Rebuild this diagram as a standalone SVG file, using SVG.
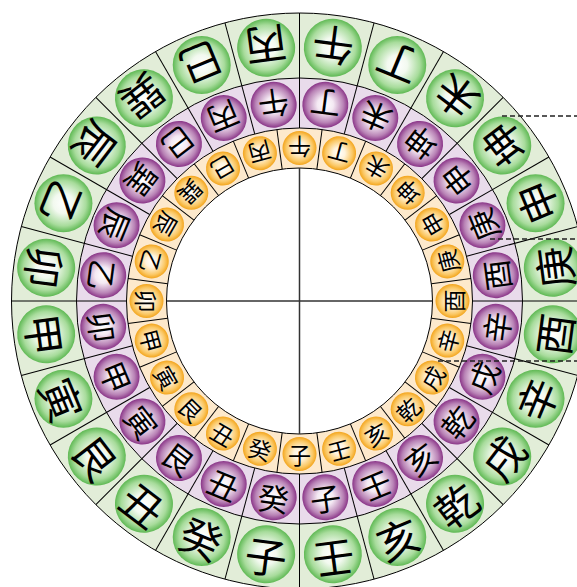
<svg xmlns="http://www.w3.org/2000/svg" width="577" height="587" viewBox="0 0 577 587">
<defs>
<radialGradient id="gg" cx="0.5" cy="0.5" r="0.5">
<stop offset="0" stop-color="#ffffff"/>
<stop offset="0.35" stop-color="#f2f9ef"/>
<stop offset="0.78" stop-color="#a8dc9c"/>
<stop offset="1" stop-color="#5fb954"/>
</radialGradient>
<radialGradient id="gp" cx="0.5" cy="0.5" r="0.5">
<stop offset="0" stop-color="#ffffff"/>
<stop offset="0.35" stop-color="#f4e9f3"/>
<stop offset="0.78" stop-color="#b983b6"/>
<stop offset="1" stop-color="#8a3588"/>
</radialGradient>
<radialGradient id="gy" cx="0.5" cy="0.5" r="0.5">
<stop offset="0" stop-color="#ffffff"/>
<stop offset="0.35" stop-color="#fff3dc"/>
<stop offset="0.78" stop-color="#fbc865"/>
<stop offset="1" stop-color="#f3a51d"/>
</radialGradient>
</defs>
<style>
.cg{fill:url(#gg)}
.cp{fill:url(#gp)}
.cy{fill:url(#gy)}
text{font-family:"Noto Sans CJK TC","Noto Sans CJK SC",sans-serif;text-anchor:middle;dominant-baseline:central;fill:#000}
.tg{font-size:42px}
.tp{font-size:31px}
.ty{font-size:23px}
.div line{stroke:#000;stroke-width:1}
.ring{stroke:#000;stroke-width:1}
.dash{stroke:#222;stroke-width:1.3;stroke-dasharray:5 3;fill:none}
</style>
<g id="rings" transform="translate(299.5 301)">
<circle class="ring" r="288" fill="#e2edd8" stroke-width="2"/>
<circle class="ring" r="223" fill="#e9dbeb"/>
<circle class="ring" r="173" fill="#fde9cc"/>
<circle class="ring" r="133" fill="#ffffff"/>
<line x1="0" y1="-133" x2="0" y2="133" stroke="#333" stroke-width="1.5"/>
<line x1="-133" y1="0" x2="133" y2="0" stroke="#333" stroke-width="1.5"/>
<g class="div">
<line y1="-173" y2="-288" transform="rotate(0)"/>
<line y1="-173" y2="-288" transform="rotate(15)"/>
<line y1="-173" y2="-288" transform="rotate(30)"/>
<line y1="-173" y2="-288" transform="rotate(45)"/>
<line y1="-173" y2="-288" transform="rotate(60)"/>
<line y1="-173" y2="-288" transform="rotate(75)"/>
<line y1="-173" y2="-288" transform="rotate(90)"/>
<line y1="-173" y2="-288" transform="rotate(105)"/>
<line y1="-173" y2="-288" transform="rotate(120)"/>
<line y1="-173" y2="-288" transform="rotate(135)"/>
<line y1="-173" y2="-288" transform="rotate(150)"/>
<line y1="-173" y2="-288" transform="rotate(165)"/>
<line y1="-173" y2="-288" transform="rotate(180)"/>
<line y1="-173" y2="-288" transform="rotate(195)"/>
<line y1="-173" y2="-288" transform="rotate(210)"/>
<line y1="-173" y2="-288" transform="rotate(225)"/>
<line y1="-173" y2="-288" transform="rotate(240)"/>
<line y1="-173" y2="-288" transform="rotate(255)"/>
<line y1="-173" y2="-288" transform="rotate(270)"/>
<line y1="-173" y2="-288" transform="rotate(285)"/>
<line y1="-173" y2="-288" transform="rotate(300)"/>
<line y1="-173" y2="-288" transform="rotate(315)"/>
<line y1="-173" y2="-288" transform="rotate(330)"/>
<line y1="-173" y2="-288" transform="rotate(345)"/>
<line y1="-133" y2="-173" transform="rotate(7.5)"/>
<line y1="-133" y2="-173" transform="rotate(22.5)"/>
<line y1="-133" y2="-173" transform="rotate(37.5)"/>
<line y1="-133" y2="-173" transform="rotate(52.5)"/>
<line y1="-133" y2="-173" transform="rotate(67.5)"/>
<line y1="-133" y2="-173" transform="rotate(82.5)"/>
<line y1="-133" y2="-173" transform="rotate(97.5)"/>
<line y1="-133" y2="-173" transform="rotate(112.5)"/>
<line y1="-133" y2="-173" transform="rotate(127.5)"/>
<line y1="-133" y2="-173" transform="rotate(142.5)"/>
<line y1="-133" y2="-173" transform="rotate(157.5)"/>
<line y1="-133" y2="-173" transform="rotate(172.5)"/>
<line y1="-133" y2="-173" transform="rotate(187.5)"/>
<line y1="-133" y2="-173" transform="rotate(202.5)"/>
<line y1="-133" y2="-173" transform="rotate(217.5)"/>
<line y1="-133" y2="-173" transform="rotate(232.5)"/>
<line y1="-133" y2="-173" transform="rotate(247.5)"/>
<line y1="-133" y2="-173" transform="rotate(262.5)"/>
<line y1="-133" y2="-173" transform="rotate(277.5)"/>
<line y1="-133" y2="-173" transform="rotate(292.5)"/>
<line y1="-133" y2="-173" transform="rotate(307.5)"/>
<line y1="-133" y2="-173" transform="rotate(322.5)"/>
<line y1="-133" y2="-173" transform="rotate(337.5)"/>
<line y1="-133" y2="-173" transform="rotate(352.5)"/>
</g>
</g>
<g id="outer" transform="translate(299.5 301)">
<g id="outer-wu" transform="rotate(7.5) translate(0 -255.5) rotate(180)"><circle class="cg" r="29"/><text class="tg">午</text></g>
<g id="outer-ding" transform="rotate(22.5) translate(0 -255.5) rotate(180)"><circle class="cg" r="29"/><text class="tg">丁</text></g>
<g id="outer-wei" transform="rotate(37.5) translate(0 -255.5) rotate(180)"><circle class="cg" r="29"/><text class="tg">未</text></g>
<g id="outer-kun" transform="rotate(52.5) translate(0 -255.5) rotate(180)"><circle class="cg" r="29"/><text class="tg">坤</text></g>
<g id="outer-shen" transform="rotate(67.5) translate(0 -255.5) rotate(180)"><circle class="cg" r="29"/><text class="tg">申</text></g>
<g id="outer-geng" transform="rotate(82.5) translate(0 -255.5) rotate(180)"><circle class="cg" r="29"/><text class="tg">庚</text></g>
<g id="outer-you" transform="rotate(97.5) translate(0 -255.5) rotate(180)"><circle class="cg" r="29"/><text class="tg">酉</text></g>
<g id="outer-xin" transform="rotate(112.5) translate(0 -255.5) rotate(180)"><circle class="cg" r="29"/><text class="tg">辛</text></g>
<g id="outer-xu" transform="rotate(127.5) translate(0 -255.5) rotate(180)"><circle class="cg" r="29"/><text class="tg">戌</text></g>
<g id="outer-qian" transform="rotate(142.5) translate(0 -255.5) rotate(180)"><circle class="cg" r="29"/><text class="tg">乾</text></g>
<g id="outer-hai" transform="rotate(157.5) translate(0 -255.5) rotate(180)"><circle class="cg" r="29"/><text class="tg">亥</text></g>
<g id="outer-ren" transform="rotate(172.5) translate(0 -255.5) rotate(180)"><circle class="cg" r="29"/><text class="tg">壬</text></g>
<g id="outer-zi" transform="rotate(187.5) translate(0 -255.5) rotate(180)"><circle class="cg" r="29"/><text class="tg">子</text></g>
<g id="outer-gui" transform="rotate(202.5) translate(0 -255.5) rotate(180)"><circle class="cg" r="29"/><text class="tg">癸</text></g>
<g id="outer-chou" transform="rotate(217.5) translate(0 -255.5) rotate(180)"><circle class="cg" r="29"/><text class="tg">丑</text></g>
<g id="outer-gen" transform="rotate(232.5) translate(0 -255.5) rotate(180)"><circle class="cg" r="29"/><text class="tg">艮</text></g>
<g id="outer-yin" transform="rotate(247.5) translate(0 -255.5) rotate(180)"><circle class="cg" r="29"/><text class="tg">寅</text></g>
<g id="outer-jia" transform="rotate(262.5) translate(0 -255.5) rotate(180)"><circle class="cg" r="29"/><text class="tg">甲</text></g>
<g id="outer-mao" transform="rotate(277.5) translate(0 -255.5) rotate(180)"><circle class="cg" r="29"/><text class="tg">卯</text></g>
<g id="outer-yi" transform="rotate(292.5) translate(0 -255.5) rotate(180)"><circle class="cg" r="29"/><text class="tg">乙</text></g>
<g id="outer-chen" transform="rotate(307.5) translate(0 -255.5) rotate(180)"><circle class="cg" r="29"/><text class="tg">辰</text></g>
<g id="outer-xun" transform="rotate(322.5) translate(0 -255.5) rotate(180)"><circle class="cg" r="29"/><text class="tg">巽</text></g>
<g id="outer-si" transform="rotate(337.5) translate(0 -255.5) rotate(180)"><circle class="cg" r="29"/><text class="tg">巳</text></g>
<g id="outer-bing" transform="rotate(352.5) translate(0 -255.5) rotate(180)"><circle class="cg" r="29"/><text class="tg">丙</text></g>
</g>
<g id="middle" transform="translate(299.5 301)">
<g id="middle-wu" transform="rotate(-7.5) translate(0 -198) rotate(180)"><circle class="cp" r="23"/><text class="tp">午</text></g>
<g id="middle-ding" transform="rotate(7.5) translate(0 -198) rotate(180)"><circle class="cp" r="23"/><text class="tp">丁</text></g>
<g id="middle-wei" transform="rotate(22.5) translate(0 -198) rotate(180)"><circle class="cp" r="23"/><text class="tp">未</text></g>
<g id="middle-kun" transform="rotate(37.5) translate(0 -198) rotate(180)"><circle class="cp" r="23"/><text class="tp">坤</text></g>
<g id="middle-shen" transform="rotate(52.5) translate(0 -198) rotate(180)"><circle class="cp" r="23"/><text class="tp">申</text></g>
<g id="middle-geng" transform="rotate(67.5) translate(0 -198) rotate(180)"><circle class="cp" r="23"/><text class="tp">庚</text></g>
<g id="middle-you" transform="rotate(82.5) translate(0 -198) rotate(180)"><circle class="cp" r="23"/><text class="tp">酉</text></g>
<g id="middle-xin" transform="rotate(97.5) translate(0 -198) rotate(180)"><circle class="cp" r="23"/><text class="tp">辛</text></g>
<g id="middle-xu" transform="rotate(112.5) translate(0 -198) rotate(180)"><circle class="cp" r="23"/><text class="tp">戌</text></g>
<g id="middle-qian" transform="rotate(127.5) translate(0 -198) rotate(180)"><circle class="cp" r="23"/><text class="tp">乾</text></g>
<g id="middle-hai" transform="rotate(142.5) translate(0 -198) rotate(180)"><circle class="cp" r="23"/><text class="tp">亥</text></g>
<g id="middle-ren" transform="rotate(157.5) translate(0 -198) rotate(180)"><circle class="cp" r="23"/><text class="tp">壬</text></g>
<g id="middle-zi" transform="rotate(172.5) translate(0 -198) rotate(180)"><circle class="cp" r="23"/><text class="tp">子</text></g>
<g id="middle-gui" transform="rotate(187.5) translate(0 -198) rotate(180)"><circle class="cp" r="23"/><text class="tp">癸</text></g>
<g id="middle-chou" transform="rotate(202.5) translate(0 -198) rotate(180)"><circle class="cp" r="23"/><text class="tp">丑</text></g>
<g id="middle-gen" transform="rotate(217.5) translate(0 -198) rotate(180)"><circle class="cp" r="23"/><text class="tp">艮</text></g>
<g id="middle-yin" transform="rotate(232.5) translate(0 -198) rotate(180)"><circle class="cp" r="23"/><text class="tp">寅</text></g>
<g id="middle-jia" transform="rotate(247.5) translate(0 -198) rotate(180)"><circle class="cp" r="23"/><text class="tp">甲</text></g>
<g id="middle-mao" transform="rotate(262.5) translate(0 -198) rotate(180)"><circle class="cp" r="23"/><text class="tp">卯</text></g>
<g id="middle-yi" transform="rotate(277.5) translate(0 -198) rotate(180)"><circle class="cp" r="23"/><text class="tp">乙</text></g>
<g id="middle-chen" transform="rotate(292.5) translate(0 -198) rotate(180)"><circle class="cp" r="23"/><text class="tp">辰</text></g>
<g id="middle-xun" transform="rotate(307.5) translate(0 -198) rotate(180)"><circle class="cp" r="23"/><text class="tp">巽</text></g>
<g id="middle-si" transform="rotate(322.5) translate(0 -198) rotate(180)"><circle class="cp" r="23"/><text class="tp">巳</text></g>
<g id="middle-bing" transform="rotate(337.5) translate(0 -198) rotate(180)"><circle class="cp" r="23"/><text class="tp">丙</text></g>
</g>
<g id="inner" transform="translate(299.5 301)">
<g id="inner-wu" transform="rotate(0) translate(0 -153) rotate(180)"><circle class="cy" r="17"/><text class="ty">午</text></g>
<g id="inner-ding" transform="rotate(15) translate(0 -153) rotate(180)"><circle class="cy" r="17"/><text class="ty">丁</text></g>
<g id="inner-wei" transform="rotate(30) translate(0 -153) rotate(180)"><circle class="cy" r="17"/><text class="ty">未</text></g>
<g id="inner-kun" transform="rotate(45) translate(0 -153) rotate(180)"><circle class="cy" r="17"/><text class="ty">坤</text></g>
<g id="inner-shen" transform="rotate(60) translate(0 -153) rotate(180)"><circle class="cy" r="17"/><text class="ty">申</text></g>
<g id="inner-geng" transform="rotate(75) translate(0 -153) rotate(180)"><circle class="cy" r="17"/><text class="ty">庚</text></g>
<g id="inner-you" transform="rotate(90) translate(0 -153) rotate(180)"><circle class="cy" r="17"/><text class="ty">酉</text></g>
<g id="inner-xin" transform="rotate(105) translate(0 -153) rotate(180)"><circle class="cy" r="17"/><text class="ty">辛</text></g>
<g id="inner-xu" transform="rotate(120) translate(0 -153) rotate(180)"><circle class="cy" r="17"/><text class="ty">戌</text></g>
<g id="inner-qian" transform="rotate(135) translate(0 -153) rotate(180)"><circle class="cy" r="17"/><text class="ty">乾</text></g>
<g id="inner-hai" transform="rotate(150) translate(0 -153) rotate(180)"><circle class="cy" r="17"/><text class="ty">亥</text></g>
<g id="inner-ren" transform="rotate(165) translate(0 -153) rotate(180)"><circle class="cy" r="17"/><text class="ty">壬</text></g>
<g id="inner-zi" transform="rotate(180) translate(0 -153) rotate(180)"><circle class="cy" r="17"/><text class="ty">子</text></g>
<g id="inner-gui" transform="rotate(195) translate(0 -153) rotate(180)"><circle class="cy" r="17"/><text class="ty">癸</text></g>
<g id="inner-chou" transform="rotate(210) translate(0 -153) rotate(180)"><circle class="cy" r="17"/><text class="ty">丑</text></g>
<g id="inner-gen" transform="rotate(225) translate(0 -153) rotate(180)"><circle class="cy" r="17"/><text class="ty">艮</text></g>
<g id="inner-yin" transform="rotate(240) translate(0 -153) rotate(180)"><circle class="cy" r="17"/><text class="ty">寅</text></g>
<g id="inner-jia" transform="rotate(255) translate(0 -153) rotate(180)"><circle class="cy" r="17"/><text class="ty">甲</text></g>
<g id="inner-mao" transform="rotate(270) translate(0 -153) rotate(180)"><circle class="cy" r="17"/><text class="ty">卯</text></g>
<g id="inner-yi" transform="rotate(285) translate(0 -153) rotate(180)"><circle class="cy" r="17"/><text class="ty">乙</text></g>
<g id="inner-chen" transform="rotate(300) translate(0 -153) rotate(180)"><circle class="cy" r="17"/><text class="ty">辰</text></g>
<g id="inner-xun" transform="rotate(315) translate(0 -153) rotate(180)"><circle class="cy" r="17"/><text class="ty">巽</text></g>
<g id="inner-si" transform="rotate(330) translate(0 -153) rotate(180)"><circle class="cy" r="17"/><text class="ty">巳</text></g>
<g id="inner-bing" transform="rotate(345) translate(0 -153) rotate(180)"><circle class="cy" r="17"/><text class="ty">丙</text></g>
</g>
<g id="connectors">
<line class="dash" x1="502" y1="116" x2="577" y2="116"/>
<line class="dash" x1="490" y1="239" x2="577" y2="239"/>
<line class="dash" x1="438" y1="361" x2="577" y2="361"/>
</g>
</svg>
